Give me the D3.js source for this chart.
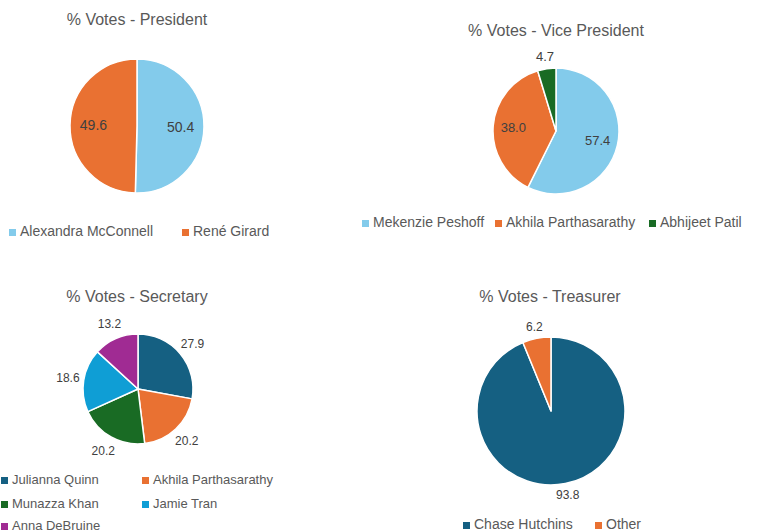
<!DOCTYPE html>
<html>
<head>
<meta charset="utf-8">
<script src="https://cdn.jsdelivr.net/npm/d3@7"></script>
<style>
  html, body { margin: 0; padding: 0; background: #fff; }
  svg { display: block; font-family: "Liberation Sans", Arial, sans-serif; }
</style>
</head>
<body>
<svg id="chart" width="760" height="532"></svg>
<script>
// ---- Data ----
const presidentNames = ["Alexandra McConnell", "René Girard"];
const presidentValues = [50.4, 49.6];
const presidentColors = ["#83CBEB", "#E97132"];

const vicePresidentNames = ["Mekenzie Peshoff", "Akhila Parthasarathy", "Abhijeet Patil"];
const vicePresidentValues = [57.4, 38.0, 4.7];
const vicePresidentColors = ["#83CBEB", "#E97132", "#196B24"];

const secretaryNames = ["Julianna Quinn", "Akhila Parthasarathy", "Munazza Khan", "Jamie Tran", "Anna DeBruine"];
const secretaryValues = [27.9, 20.2, 20.2, 18.6, 13.2];
const secretaryColors = ["#156082", "#E97132", "#196B24", "#0F9ED5", "#A02B93"];

const treasurerNames = ["Chase Hutchins", "Other"];
const treasurerValues = [93.8, 6.2];
const treasurerColors = ["#156082", "#E97132"];

// ---- Layout ----
const charts = [
  { title: "% Votes - President", names: presidentNames, values: presidentValues, colors: presidentColors,
    cx: 137, cy: 126, r: 67, titleY: 25, titleX: 137, labelFont: 14,
    labelPos: () => "inside", inFrac: 0.65,
    legend: { items: [[20, 236], [193, 236]], font: 14 } },
  { title: "% Votes - Vice President", names: vicePresidentNames, values: vicePresidentValues, colors: vicePresidentColors,
    cx: 556, cy: 131, r: 63, titleY: 36, titleX: 556, labelFont: 13,
    labelPos: (d) => d.data.v < 10 ? "outside" : "inside", inFrac: 0.68, outOff: 12,
    legend: { items: [[373, 227], [506, 227], [660, 227]], font: 14 } },
  { title: "% Votes - Secretary", names: secretaryNames, values: secretaryValues, colors: secretaryColors,
    cx: 138, cy: 389, r: 55, titleY: 302, titleX: 137, labelFont: 12,
    labelPos: () => "outside", outOff: 16,
    legend: { items: [[12, 484], [153, 484], [12, 508], [153, 508], [12, 530]], font: 13 } },
  { title: "% Votes - Treasurer", names: treasurerNames, values: treasurerValues, colors: treasurerColors,
    cx: 551, cy: 411, r: 74, titleY: 302, titleX: 550, labelFont: 12,
    labelPos: () => "outside", outOff: 12,
    legend: { items: [[474, 529], [606, 529]], font: 14 } }
];

const svg = d3.select("#chart");

charts.forEach(c => {
  const g = svg.append("g");
  const data = c.names.map((n, i) => ({ n, v: c.values[i], col: c.colors[i] }));
  const pie = d3.pie().sort(null).value(d => d.v).startAngle(0).endAngle(2 * Math.PI);
  const arcs = pie(data);
  const arc = d3.arc().innerRadius(0).outerRadius(c.r);

  g.append("text")
    .attr("x", c.titleX).attr("y", c.titleY)
    .attr("text-anchor", "middle")
    .attr("font-size", 16)
    .attr("fill", "#595959")
    .text(c.title);

  const pg = g.append("g").attr("transform", `translate(${c.cx},${c.cy})`);
  pg.selectAll("path").data(arcs).join("path")
    .attr("d", arc)
    .attr("fill", d => d.data.col)
    .attr("stroke", "#fff")
    .attr("stroke-width", 1.5)
    .attr("stroke-linejoin", "round");

  pg.selectAll("text.lbl").data(arcs).join("text")
    .attr("class", "lbl")
    .attr("transform", d => {
      const pos = c.labelPos(d);
      const rr = pos === "inside" ? c.r * c.inFrac : c.r + c.outOff;
      const a = (d.startAngle + d.endAngle) / 2;
      return `translate(${Math.sin(a) * rr},${-Math.cos(a) * rr})`;
    })
    .attr("text-anchor", "middle")
    .attr("dominant-baseline", "central")
    .attr("font-size", c.labelFont)
    .attr("fill", "#404040")
    .text(d => d.data.v.toFixed(1));

  const lg = g.append("g");
  data.forEach((d, i) => {
    const [x, y] = c.legend.items[i];
    lg.append("rect")
      .attr("x", x - 11).attr("y", y - 7)
      .attr("width", 7).attr("height", 7)
      .attr("fill", d.col);
    lg.append("text")
      .attr("x", x).attr("y", y)
      .attr("font-size", c.legend.font)
      .attr("fill", "#595959")
      .text(d.n);
  });
});
</script>
</body>
</html>
